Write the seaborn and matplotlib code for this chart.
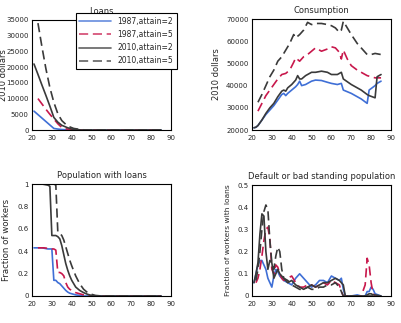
import numpy as np
import pandas as pd
import matplotlib
matplotlib.use("Agg")
import matplotlib.pyplot as plt
import seaborn as sns

# ---- data ----
labels = ["1987,attain=2", "1987,attain=5", "2010,attain=2", "2010,attain=5"]

# Loans (2010 dollars)
loan_age_a2 = [21, 23, 25, 27, 29, 31, 33, 35, 38, 40, 45, 50, 60, 70, 85]
loan_8702 = [6000, 4900, 3800, 2700, 1600, 500, 300, 150, 50, 0, 0, 0, 0, 0, 0]
loan_1002 = [21000, 17700, 14300, 11000, 7600, 4000, 2500, 1500, 700, 300, 0, 0, 0, 0, 0]
loan_age_a5 = [23, 25, 27, 29, 31, 33, 35, 37, 39, 41, 43, 45, 47, 50, 60, 70, 85]
loan_8705 = [10000, 8300, 6600, 5000, 3500, 2000, 800, 400, 150, 0, 0, 0, 0, 0, 0, 0, 0]
loan_1005 = [34000, 26500, 19500, 13500, 8800, 5200, 3000, 1800, 1000, 500, 300, 100, 0, 0, 0, 0, 0]

# Consumption (2010 dollars)
cons_age_a2 = [21, 22, 23, 25, 27, 29, 31, 33, 35, 36, 37, 38, 40, 42, 43, 44, 45, 47, 50,
               52, 55, 58, 60, 63, 65, 66, 70, 75, 78, 79, 82, 83, 85]
cons_8702 = [21000, 21200, 22000, 24500, 27000, 29000, 31000, 33500, 36000, 36500, 35500,
             36500, 38000, 39500, 40500, 42000, 40000, 40500, 42000, 42500, 42300, 41500,
             41000, 40500, 41000, 38000, 36500, 34000, 32000, 38000, 40000, 41000, 42000]
cons_1002 = [21000, 21300, 22000, 24500, 27500, 30000, 32000, 35000, 37500, 38000, 37500,
             39000, 40500, 42500, 44500, 43000, 43000, 44500, 46000, 46000, 46500, 46000,
             45000, 45000, 46000, 43000, 40500, 38000, 36000, 35500, 34500, 44000, 45000]
cons_age_a5 = [23, 25, 27, 29, 31, 33, 35, 37, 39, 41, 42, 44, 46, 48, 50, 52, 55, 58, 60,
               62, 64, 65, 66, 68, 70, 73, 76, 78, 80, 82, 85]
cons_8705 = [28500, 32000, 35500, 38000, 40500, 43000, 45000, 45500, 47000, 50500, 52500,
             51000, 53000, 54000, 55500, 57000, 55500, 56500, 57500, 57000, 55000, 52000,
             56000, 52000, 49000, 47000, 45500, 44500, 44000, 43500, 43500]
cons_1005 = [32500, 36000, 40000, 44000, 47000, 51000, 53000, 56000, 59000, 63000, 61500,
             63000, 65000, 68500, 67500, 68000, 68000, 67500, 67000, 66000, 64000, 65000,
             69000, 66000, 63000, 59000, 56000, 54000, 54000, 54500, 54000]

# Population with loans (fraction of workers)
pop_age_a2 = [21, 25, 28, 29, 30, 31, 32, 33, 34, 35, 36, 37, 38, 39, 40, 42, 44, 46, 48,
              50, 52, 55, 70, 85]
pop_8702 = [0.43, 0.43, 0.42, 0.42, 0.42, 0.14, 0.14, 0.12, 0.11, 0.09, 0.07, 0.05, 0.035,
            0.025, 0.02, 0.01, 0.005, 0.0, 0.0, 0.0, 0.0, 0.0, 0.0, 0.0]
pop_1002 = [1.0, 1.0, 0.99, 0.98, 0.54, 0.54, 0.54, 0.53, 0.51, 0.45, 0.37, 0.29, 0.23,
            0.18, 0.14, 0.08, 0.05, 0.03, 0.015, 0.005, 0.0, 0.0, 0.0, 0.0]
pop_age_a5 = [23, 26, 30, 31, 32, 33, 34, 35, 36, 37, 38, 39, 40, 42, 44, 46, 48, 50, 52,
              55, 70, 85]
pop_8705 = [0.43, 0.43, 0.42, 0.42, 0.41, 0.21, 0.21, 0.20, 0.18, 0.12, 0.08, 0.06, 0.05,
            0.03, 0.02, 0.01, 0.0, 0.0, 0.0, 0.0, 0.0, 0.0]
pop_1005 = [1.0, 1.0, 1.0, 1.0, 0.99, 0.57, 0.56, 0.54, 0.50, 0.44, 0.38, 0.32, 0.27,
            0.18, 0.11, 0.06, 0.03, 0.015, 0.005, 0.0, 0.0, 0.0]

# Default or bad standing (fraction of workers with loans)
def_age_a2 = [21, 22, 23, 24, 25, 26, 27, 28, 29, 30, 31, 32, 33, 34, 36, 38, 40, 42, 44,
              46, 48, 50, 52, 54, 56, 58, 60, 62, 64, 65, 66, 67, 70, 73, 75, 77, 78, 79,
              80, 81, 82, 85]
def_8702 = [0.06, 0.10, 0.14, 0.16, 0.16, 0.14, 0.12, 0.08, 0.06, 0.04, 0.09, 0.12, 0.11,
            0.09, 0.07, 0.06, 0.05, 0.08, 0.10, 0.08, 0.06, 0.04, 0.05, 0.07, 0.07, 0.06,
            0.09, 0.08, 0.07, 0.08, 0.03, 0.0, 0.0, 0.005, 0.0, 0.0, 0.02, 0.02, 0.04, 0.03,
            0.01, 0.0]
def_1002 = [0.06, 0.10, 0.15, 0.28, 0.37, 0.36, 0.20, 0.12, 0.16, 0.15, 0.08, 0.10, 0.12,
            0.10, 0.08, 0.06, 0.07, 0.05, 0.04, 0.03, 0.04, 0.05, 0.04, 0.05, 0.06, 0.06,
            0.07, 0.08, 0.07, 0.06, 0.05, 0.0, 0.0, 0.0, 0.0, 0.0, 0.005, 0.01, 0.01, 0.005,
            0.005, 0.0]
def_age_a5 = [22, 23, 24, 25, 26, 27, 28, 29, 30, 31, 32, 33, 34, 35, 36, 38, 40, 42, 44,
              46, 48, 50, 52, 54, 56, 58, 60, 62, 64, 65, 66, 70, 75, 77, 78, 79, 80, 81,
              82, 85]
def_8705 = [0.06, 0.08, 0.12, 0.18, 0.25, 0.30, 0.31, 0.26, 0.12, 0.10, 0.14, 0.13, 0.10,
            0.08, 0.07, 0.08, 0.09, 0.06, 0.04, 0.04, 0.05, 0.05, 0.04, 0.05, 0.06, 0.05,
            0.07, 0.06, 0.05, 0.02, 0.0, 0.0, 0.0, 0.05, 0.17, 0.14, 0.06, 0.01, 0.0, 0.0]
def_1005 = [0.07, 0.12, 0.20, 0.30, 0.38, 0.41, 0.39, 0.25, 0.15, 0.12, 0.18, 0.22, 0.20,
            0.12, 0.08, 0.07, 0.05, 0.04, 0.03, 0.03, 0.04, 0.03, 0.03, 0.04, 0.04, 0.05,
            0.05, 0.06, 0.04, 0.02, 0.0, 0.0, 0.0, 0.0, 0.0, 0.0, 0.0, 0.0, 0.0, 0.0]

colors = ["#3f6fd6", "#c8184c", "#3a3a3a", "#3a3a3a"]
styles = ["-", "--", "-", "--"]

sns.set_style("white")
plt.rcParams["font.family"] = ["DejaVu Sans"]

fig = plt.figure(figsize=(4.01, 3.23), dpi=100)
pos = [[0.0798, 0.5975, 0.3466, 0.3406],
       [0.6284, 0.5975, 0.3466, 0.3436],
       [0.0798, 0.0836, 0.3466, 0.3467],
       [0.6284, 0.0836, 0.3466, 0.3436]]

panels = [
    ("Loans", "2010 dollars", (0, 35000), np.arange(0, 35001, 5000), -0.17, 6.0,
     [(loan_age_a2, loan_8702), (loan_age_a5, loan_8705),
      (loan_age_a2, loan_1002), (loan_age_a5, loan_1005)]),
    ("Consumption", "2010 dollars", (20000, 70000), np.arange(20000, 70001, 10000), -0.22, 6.0,
     [(cons_age_a2, cons_8702), (cons_age_a5, cons_8705),
      (cons_age_a2, cons_1002), (cons_age_a5, cons_1005)]),
    ("Population with loans", "Fraction of workers", (0, 1), [0, 0.2, 0.4, 0.6, 0.8, 1],
     -0.15, 6.2,
     [(pop_age_a2, pop_8702), (pop_age_a5, pop_8705),
      (pop_age_a2, pop_1002), (pop_age_a5, pop_1005)]),
    ("Default or bad standing population", "Fraction of workers with loans", (0, 0.5),
     [0, 0.1, 0.2, 0.3, 0.4, 0.5], -0.15, 5.4,
     [(def_age_a2, def_8702), (def_age_a5, def_8705),
      (def_age_a2, def_1002), (def_age_a5, def_1005)]),
]

for p, (title, ylabel, ylim, yticks, ylab_x, ylab_fs, series) in zip(pos, panels):
    ax = fig.add_axes(p)
    for (x, y), lab, c, ls in zip(series, labels, colors, styles):
        sns.lineplot(x=x, y=y, ax=ax, color=c, linestyle=ls, linewidth=1.2,
                     label=lab, legend=False)
        if ls == "--":
            ax.lines[-1].set_dashes((5.5, 2.8))
    ax.set_xlim(20, 90)
    ax.set_ylim(*ylim)
    ax.set_xticks(np.arange(20, 91, 10))
    ax.set_yticks(yticks)
    ax.set_yticklabels([("%g" % t) for t in yticks])
    ax.set_title(title, fontsize=6.0, pad=4.5)
    ax.set_ylabel(ylabel, fontsize=ylab_fs)
    ax.yaxis.set_label_coords(ylab_x, 0.5)
    ax.set_xlabel("")
    ax.tick_params(labelsize=5.0, direction="in", length=2, width=0.5)
    ax.tick_params(axis="x", pad=3.5)
    ax.tick_params(axis="y", pad=2.5)
    for s in ax.spines.values():
        s.set_color("black")
        s.set_linewidth(0.8)

ax0 = fig.axes[0]
leg = ax0.legend(loc="upper left", bbox_to_anchor=(0.288, 1.095), fontsize=5.5,
                 frameon=True, fancybox=False, edgecolor="black", framealpha=1,
                 handlelength=4.2, borderpad=0.45, labelspacing=0.55)
leg.get_frame().set_linewidth(0.8)
for h in leg.get_lines():
    h.set_alpha(0.8)

fig.savefig("out.png", dpi=100)
